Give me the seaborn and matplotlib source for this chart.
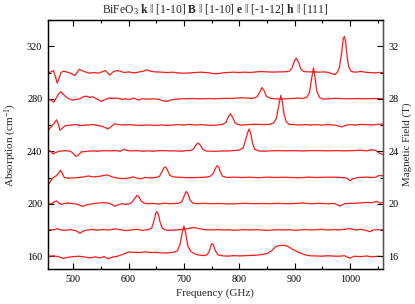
import numpy as np
import pandas as pd
import matplotlib
matplotlib.use("Agg")
import matplotlib.pyplot as plt
from matplotlib.ticker import MultipleLocator
import seaborn as sns

# magnetic field of each spectrum (T); spectra are offset by 10*field (cm^-1)
fields = [16, 18, 20, 22, 24, 26, 28, 30]

f16 = [455, 465, 475, 482, 490, 500, 510, 520, 530, 540, 548, 556, 563, 570, 580, 590, 600, 610, 620, 630,
       640, 650, 660, 670, 680, 688, 693, 697, 700, 703, 707, 712, 718, 725, 735, 742, 746, 750, 753, 757,
       762, 770, 780, 790, 800, 810, 820, 830, 840, 850, 858, 865, 872, 880, 888, 895, 902, 910, 918, 928,
       940, 950, 960, 970, 980, 990, 1000, 1008, 1020, 1030, 1040, 1050, 1060]
a16 = [0, 0.3, -0.5, -1.8, -0.8, -0.3, 0, -0.5, -1.3, -0.5, -1.3, -0.3, -2, -0.8, 0, 1.5, 3.2, 3, 2.8, 3.3,
       2.8, 3, 2.5, 2.5, 3, 4, 9, 18, 23, 18, 8, 4, 2, 1, 0.5, 1, 4, 9.5, 9, 4,
       1, 0.3, 0, 0.5, 0.2, 0.4, 0.6, 0.8, 1.2, 2, 4, 7, 8.2, 8.3, 7.5, 5.5, 4, 2.5, 1.2, 0.3,
       0.2, 0, 0.4, 0.1, 0, 0.4, -1.5, 0, -0.3, 0.2, -0.5, 0, -0.3]

f18 = [455, 465, 472, 478, 485, 495, 505, 512, 518, 525, 535, 545, 555, 565, 575, 585, 595, 605, 615, 625,
       635, 642, 646, 649, 651, 654, 657, 661, 666, 675, 685, 695, 705, 715, 722, 730, 740, 750, 760, 770,
       780, 790, 800, 810, 820, 830, 840, 850, 860, 870, 880, 890, 900, 910, 920, 930, 940, 950, 960, 970,
       980, 990, 1000, 1010, 1020, 1030, 1036, 1042, 1050, 1060]
a18 = [0, 0.2, 1, 0, -0.3, 0.2, -0.5, -2.5, -1, 0, 0.3, -0.2, 0.3, 0, 0.8, 0.3, -0.5, 0, 0.5, -0.3,
       0.2, 1.5, 7, 12.5, 14, 12, 6, 1.5, 0, -0.3, 0, 0.3, 0.8, 1.8, 1.6, 0.8, 0.2, 0, 0.3, 0,
       0.2, -0.2, 0, 0.3, 0, 0.2, 0, -0.3, 0, 0.2, 0, 0.2, -0.2, 0, 0.3, 0, 0.2, 0.5, 0, 0.3,
       0, 0.5, 1, 0, 0.5, -0.5, -1.3, 0, 0.2, 0]

f20 = [455, 462, 466, 470, 474, 478, 485, 492, 500, 508, 513, 518, 525, 535, 545, 555, 563, 570, 575, 580,
       588, 595, 602, 607, 611, 615, 619, 623, 628, 635, 645, 655, 665, 675, 685, 692, 697, 701, 704, 707,
       711, 716, 725, 735, 750, 765, 780, 795, 810, 825, 840, 855, 870, 885, 900, 915, 930, 945, 960, 972,
       982, 990, 1000, 1015, 1030, 1040, 1048, 1055, 1060]
a20 = [0, 0.3, 1.5, 2.2, 0.5, -0.5, 0.3, 0.5, 0, -0.3, -1.5, -2, -0.8, 0, 0.5, 0.8, 0.5, -0.5, -2, -1,
       0, -0.5, 0, 1.5, 4, 6.3, 5, 2, 0.5, 0, 0.3, -0.3, 0.5, 0, 0.2, 0.5, 2, 6.5, 9.4, 8,
       3, 0.5, 0, 0.3, 0, 0.2, -0.2, 0, 0.3, 0, 0.2, 0, 0.3, 0, 0.2, 0.5, 0, 0.3, 0, 0.2,
       -1.8, 0, 0.3, 0.5, 1, 0.8, 1.8, 0.5, 1]

f22 = [455, 458, 462, 466, 470, 474, 477, 480, 484, 490, 500, 510, 520, 528, 535, 545, 555, 562, 570, 580,
       590, 600, 608, 614, 622, 630, 640, 650, 656, 660, 664, 667, 670, 674, 680, 690, 700, 710, 720, 730,
       740, 748, 753, 757, 760, 763, 766, 770, 778, 790, 805, 820, 835, 850, 865, 880, 895, 910, 925, 940,
       955, 970, 985, 995, 1000, 1005, 1015, 1030, 1045, 1052, 1058, 1060]
a22 = [-6, -3.5, -1, 0.5, 1.5, 3.5, 5.6, 3.5, 0, -0.5, -0.3, 0, 0.5, 1.2, 0.5, 0.8, 1.5, 2, 0.5, -0.5,
       -0.8, -0.5, 0.5, -0.3, -1, 0, -0.3, 0, 1, 4, 7.5, 8, 6, 2, 0.5, 0.2, 0, -0.2, 0, 0,
       0.3, 1, 3, 7, 9, 8, 4, 1, 0, 0.3, 0, 0.2, -0.2, 0.3, 0, 0.2, 0, -0.2, 0.3, 0,
       0.2, 0.3, 0, -0.5, -2.5, -1, 0, 0.3, 0, 1.5, 1.5, 1]

f24 = [455, 460, 463, 468, 475, 485, 495, 500, 505, 510, 515, 525, 535, 545, 555, 565, 575, 585, 592, 598,
       605, 615, 625, 635, 645, 655, 665, 675, 685, 695, 705, 712, 718, 722, 726, 730, 734, 740, 750, 760,
       770, 780, 790, 800, 807, 811, 815, 818, 821, 824, 828, 835, 845, 855, 870, 885, 900, 915, 930, 945,
       960, 975, 990, 1005, 1020, 1030, 1040, 1047, 1052, 1056, 1060]
a24 = [0.5, 0, -2, -1, 0, 0.5, 0, -1.5, -4, -2.5, -0.5, 0, 0.3, 0, 0.5, 0.3, 0.5, 0, 1.5, 0.5,
       0.3, 0.5, 0, 0.3, 0, 0.5, 0.5, 0.2, 0.3, 0, 0.5, 0.5, 2, 5, 6.3, 4.5, 1.5, 0.2, 0, 0,
       0.3, 0.2, 0.5, 1, 2.5, 8, 14, 17, 13, 6, 1.5, 0.3, 0, 0.3, 0.5, 0.3, 0.5, 0.2, 0.5, 0.5,
       0.3, 0.5, 0.3, 0.5, 0.8, 0.3, 1.2, 0.5, -1, -2, -2.5]

f26 = [455, 460, 465, 470, 473, 476, 480, 486, 495, 505, 515, 525, 535, 545, 552, 558, 563, 568, 575, 582,
       590, 600, 610, 620, 630, 640, 650, 660, 670, 680, 690, 700, 710, 720, 730, 740, 750, 760, 770, 776,
       780, 784, 788, 792, 797, 805, 815, 825, 835, 845, 855, 862, 867, 871, 875, 878, 881, 885, 890, 900,
       910, 920, 930, 940, 950, 960, 970, 978, 985, 992, 1000, 1010, 1020, 1030, 1040, 1050, 1060]
a26 = [-3.5, -1.5, 1, 4, 1, -4, -2.5, -0.5, 0, 0.3, -0.3, 0, 0.3, -0.3, -1, -2, -3, -1.5, 1, 0.3,
       0, 0.3, 0, -0.2, 0, 0, -0.3, 0, -0.3, 0, 0.3, 0, 0.5, 0, 0.3, 0, -0.2, 0, 0.5, 2,
       6, 8.6, 6, 2, 0.5, 0, 0.3, 0.5, 0.5, 0.3, 0.5, 1.5, 5, 14, 22.6, 17, 8, 2.5, 0.5, 0.3,
       0, 0.3, 0, 0.3, 0, 0.3, 0, -0.5, -1.5, -0.3, 0.3, 0, 0.5, 0.3, 0, 0.5, 0.8]

f28 = [455, 460, 465, 470, 475, 478, 483, 490, 498, 505, 512, 518, 524, 530, 536, 542, 551, 558, 565, 572,
       580, 588, 595, 602, 610, 618, 625, 635, 645, 655, 662, 669, 676, 685, 695, 705, 715, 725, 735, 745,
       755, 765, 775, 785, 795, 805, 815, 825, 832, 837, 841, 845, 849, 855, 865, 875, 885, 895, 905, 915,
       922, 927, 931, 934, 937, 940, 945, 952, 962, 972, 985, 1000, 1015, 1030, 1045, 1060]
a28 = [0, -1, -2.5, 1, 4.5, 5.3, 3, 0.5, -1, -0.5, 0, 1.5, 2, 1, 1.5, 0, -2, -0.5, 0.5, 0.3,
       0.5, -0.5, 0, -0.5, 0.5, -1, 0, -0.3, 0, -0.5, -1.5, -2, -1, -0.3, 0, 0, 0.2, 0, 0, 0.2,
       0, 0.2, 0.3, 0.3, 0.5, 0.8, 0.5, 0.3, 1.5, 5, 8.6, 6, 2, 0.5, 0, -0.3, 0, 0.2, 0.5, 0.3,
       1, 5, 16, 23.6, 16, 6, 1, -0.3, 0, 0.3, 0.2, 0, 0.2, 0, 0.2, 0]

f30 = [455, 460, 464, 468, 471, 474, 478, 482, 488, 495, 503, 508, 511, 516, 522, 530, 538, 545, 552, 558,
       562, 566, 572, 578, 585, 592, 600, 610, 620, 628, 633, 640, 648, 660, 670, 680, 690, 700, 710, 720,
       730, 740, 750, 759, 768, 778, 790, 800, 810, 820, 830, 840, 850, 860, 870, 880, 890, 895, 899, 903,
       907, 911, 916, 925, 935, 945, 955, 962, 968, 973, 977, 981, 985, 988, 990, 992, 995, 998, 1002, 1008,
       1015, 1020, 1026, 1035, 1045, 1052, 1060]
a30 = [0, 0.5, 1.5, -3, -8, -5, 0, 1, 0.5, -0.5, -2.3, 0.5, 2.5, 1.5, 0.5, -0.5, 0, -0.5, 0.5, 1.5,
       0, -2, 0.5, 1.5, 1, 0, 0.5, -0.3, 0.5, 1.2, 2, 1, 0.5, 0.3, 0, 0.3, -0.3, -0.5, -0.3, 0,
       0.3, 0, -0.5, -1, -0.3, 0, 0.3, 0, 0.3, 0, 0.5, 0.8, 0.5, 0.3, 0.5, 0.5, 1, 3, 8, 11,
       8, 3, 0.8, 0.5, 0.5, 0.3, 0.5, 0, -1, -1.5, 0, 4, 15, 26, 27.5, 24, 12, 4, 1, 0.3,
       0.5, 1, 0.3, 0, -0.3, 0, 0]

freqs = [f16, f18, f20, f22, f24, f26, f28, f30]
absorb = [a16, a18, a20, a22, a24, a26, a28, a30]

rows = []
for B, fx, ay in zip(fields, freqs, absorb):
    for x, y in zip(fx, ay):
        rows.append({"field": B, "freq": x, "absorption": 10 * B + y})
df = pd.DataFrame(rows)

sns.set_theme(style="ticks")
plt.rcParams["font.family"] = ["Liberation Serif", "DejaVu Serif"]
plt.rcParams["mathtext.fontset"] = "custom"
plt.rcParams["mathtext.rm"] = "Liberation Serif"
plt.rcParams["mathtext.it"] = "Liberation Serif:italic"
plt.rcParams["mathtext.bf"] = "Liberation Serif:bold"

fig = plt.figure(figsize=(4.15, 3.04), dpi=100)
ax = fig.add_axes([0.115, 0.114, 0.807, 0.820])

sns.lineplot(data=df, x="freq", y="absorption", hue="field", units="field",
             estimator=None, sort=False, palette=["#ff1a1a"] * len(fields),
             linewidth=0.9, legend=False, ax=ax)

ax.set_xlim(454, 1059)
ax.set_ylim(150, 340)
ax.xaxis.set_major_locator(MultipleLocator(100))
ax.xaxis.set_minor_locator(MultipleLocator(50))
ax.yaxis.set_major_locator(MultipleLocator(40))
ax.yaxis.set_minor_locator(MultipleLocator(20))
ax.tick_params(which="both", direction="in", top=True, right=False, labelsize=7.3, colors="black", pad=4)
ax.tick_params(which="major", length=4, width=0.8)
ax.tick_params(which="minor", length=2.5, width=0.8)
ax.set_xlabel("Frequency (GHz)", fontsize=8, labelpad=3)
ax.set_ylabel("Absorption (cm$^{-1}$)", fontsize=8, labelpad=6)
for s in ax.spines.values():
    s.set_linewidth(0.9)
    s.set_color("black")

ax2 = ax.twinx()
ax2.set_ylim(15, 34)
ax2.yaxis.set_major_locator(MultipleLocator(4))
ax2.yaxis.set_minor_locator(MultipleLocator(2))
ax2.tick_params(which="both", direction="in", labelsize=7.3, colors="black", pad=4)
ax2.tick_params(which="major", length=4, width=0.8)
ax2.tick_params(which="minor", length=2.5, width=0.8)
ax2.set_ylabel("Magnetic Field (T)", fontsize=7.8, labelpad=3)
for s in ax2.spines.values():
    s.set_linewidth(0.9)
    s.set_color("black")
ax2.spines["right"].set_color("#555555")

ax.set_title(r"BiFeO$_3$ $\mathbf{k}$ ‖ [1-10] $\mathbf{B}$ ‖ [1-10] $\mathbf{e}$ ‖ [-1-12] $\mathbf{h}$ ‖ [111]",
             fontsize=8.4, pad=5)

fig.savefig("out.png", dpi=100)
